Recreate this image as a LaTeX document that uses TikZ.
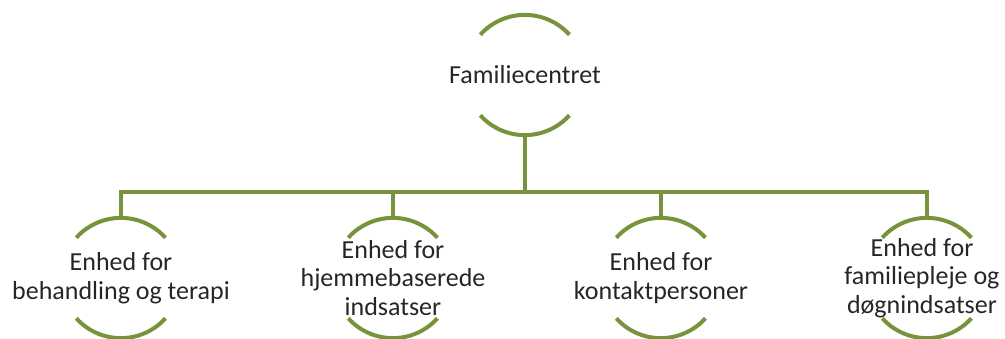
\documentclass[tikz,border=0pt]{standalone}
\usepackage{fontspec}
\setmainfont{Carlito}
\usepackage{xcolor}
\definecolor{olive}{HTML}{77933C}
\tikzset{ring/.style={circle,minimum size=120pt,inner sep=0pt,draw=none},
 unittext/.style={align=center,font=\fontsize{26}{28.5}\selectfont,text=black!85},
 link/.style={draw=olive,line width=4pt},
 }

\begin{document}
\begin{tikzpicture}[x=1pt,y=1pt]
        \useasboundingbox (0,0) rectangle (1005,338);
        \node[ring] (top) at (525,263) {};
        \node[ring] (u1) at (121,60) {};
        \node[ring] (u2) at (393,60) {};
        \node[ring] (u3) at (661,60) {};
        \node[ring] (u4) at (927,60) {};
        \foreach \n in {top, u1, u2, u3, u4} {
            \draw[link] (\n.138) arc[start angle=138, end angle=42, radius=60];
            \draw[link] (\n.222) arc[start angle=222, end angle=318, radius=60];
        }
        \node[unittext] (toptext) at (top) {Familiecentret};
        \node[unittext] (u1text) at (u1) {Enhed for\\behandling og terapi};
        \node[unittext] (u2text) at (u2) {Enhed for\\hjemmebaserede\\indsatser};
        \node[unittext] (u3text) at (u3) {Enhed for\\kontaktpersoner};
        \node[unittext] (u4text) at ([xshift=-5pt]u4) {Enhed for\\familiepleje og\\døgnindsatser};
        \draw[link] (top.south) -- ++(0,-57) coordinate (bus);
        \foreach \n in {u1, u2, u3, u4} {
            \draw[link] (bus) -| (\n.north);
        }
    \end{tikzpicture}
\end{document}
